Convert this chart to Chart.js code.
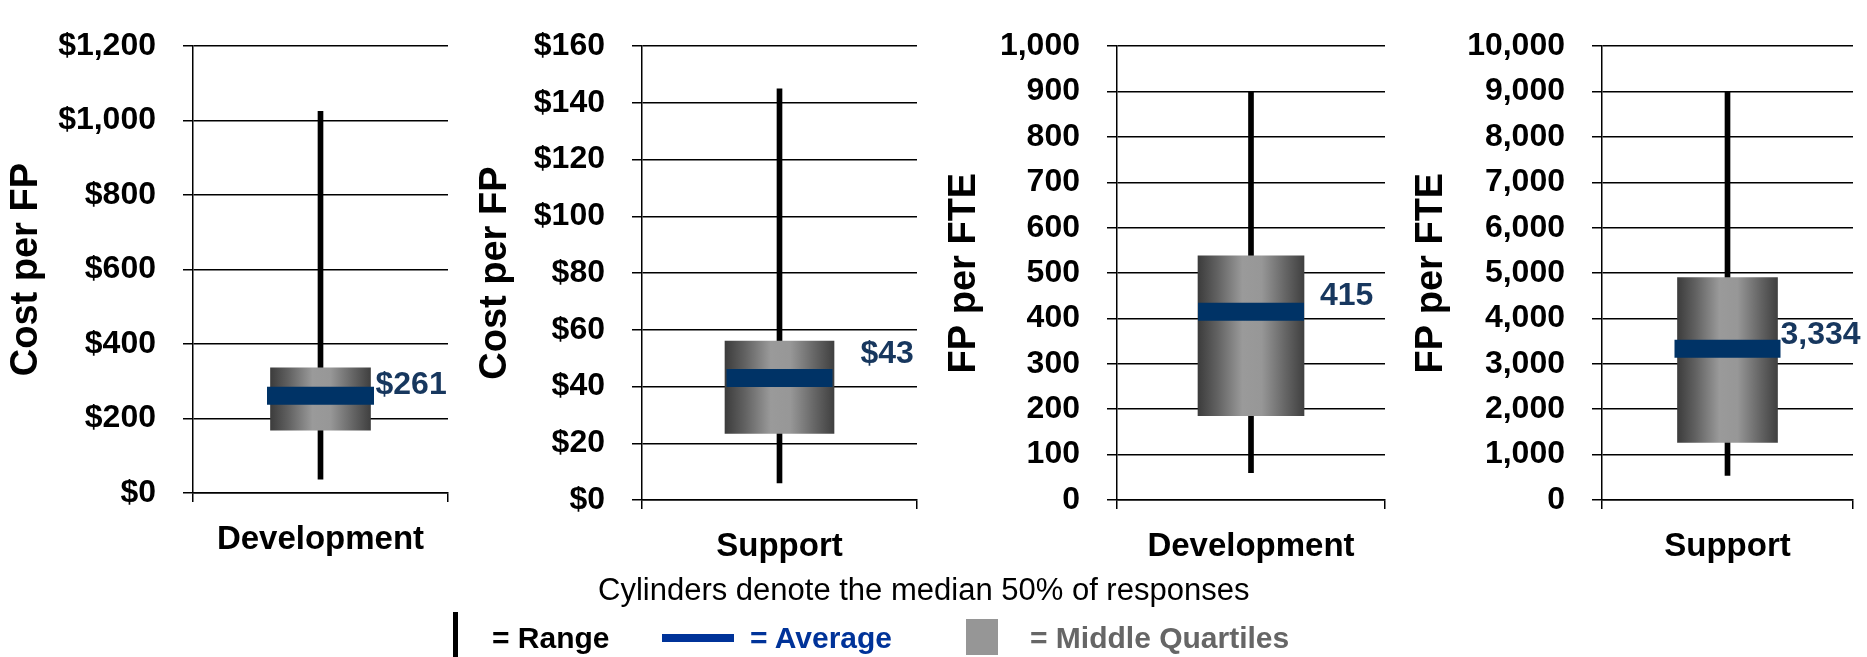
<!DOCTYPE html>
<html>
<head>
<meta charset="utf-8">
<script src="https://cdn.jsdelivr.net/npm/chart.js@4.4.1/dist/chart.umd.min.js"></script>
<style>
  html, body { margin: 0; padding: 0; background: #fff; }
  body { width: 1867px; height: 657px; position: relative; overflow: hidden; font-family: "Liberation Sans", Arial, sans-serif; }
  .panel { position: absolute; top: 0; height: 657px; }
  .note { position: absolute; white-space: nowrap; line-height: 1; }
  .swatch { position: absolute; }
</style>
</head>
<body>

<div class="panel" style="left:4px"><canvas id="c0" width="447" height="657"></canvas></div>
<div class="panel" style="left:473px"><canvas id="c1" width="447" height="657"></canvas></div>
<div class="panel" style="left:942px"><canvas id="c2" width="446" height="657"></canvas></div>
<div class="panel" style="left:1409px"><canvas id="c3" width="458" height="657"></canvas></div>

<div class="note" style="left:598px;top:574px;font-size:31px;color:#000">Cylinders denote the median 50% of responses</div>

<div class="swatch" style="left:453px;top:612px;width:5px;height:45px;background:#000"></div>
<div class="note" style="left:492px;top:623px;font-size:30px;font-weight:bold;color:#000">= Range</div>
<div class="swatch" style="left:662px;top:634px;width:72px;height:8px;background:#003399"></div>
<div class="note" style="left:750px;top:623px;font-size:30px;font-weight:bold;color:#003399">= Average</div>
<div class="swatch" style="left:966px;top:619px;width:32px;height:36px;background:#969696"></div>
<div class="note" style="left:1030px;top:623px;font-size:30px;font-weight:bold;color:#666">= Middle Quartiles</div>

<script>
// values
const categories = ['Development', 'Support', 'Development', 'Support'];
const axisTitles = ['Cost per FP', 'Cost per FP', 'FP per FTE', 'FP per FTE'];
const rangeLow = [37, 6, 60, 540];
const rangeHigh = [1025, 145, 900, 9000];
const quartileLow = [169, 23.5, 186, 1270];
const quartileHigh = [336, 56, 538, 4900];
const averages = [261, 43, 415, 3334];
const averageLabels = ['$261', '$43', '415', '3,334'];
const axisMax = [1200, 160, 1000, 10000];
const axisStep = [200, 20, 100, 1000];
const tickPrefix = ['$', '$', '', ''];

// per panel layout
const layoutCfg = [
  { axisWidth: 189, top: 36, right: 3, bottom: 493, box: 100, avgLen: 107, lblDx: 55, lblDy: 11 },
  { axisWidth: 169, top: 25, right: 3, bottom: 500, box: 109, avgLen: 106, lblDx: 81, lblDy: 24 },
  { axisWidth: 175, top: 22, right: 3, bottom: 500, box: 106, avgLen: 106, lblDx: 69, lblDy: 16 },
  { axisWidth: 193, top: 22, right: 14, bottom: 500, box: 100, avgLen: 106, lblDx: 53, lblDy: 14 }
];

const FONT = '"Liberation Sans", Arial, sans-serif';
const H = 657;

const avgLabelPlugin = {
  id: 'avgLabel',
  afterDatasetsDraw(chart, args, opts) {
    const ctx = chart.ctx;
    const area = chart.chartArea;
    const cx = (area.left + area.right) / 2;
    const y = chart.scales.y.getPixelForValue(opts.value);
    ctx.save();
    ctx.font = 'bold 32px ' + FONT;
    ctx.fillStyle = '#17375e';
    ctx.textAlign = 'left';
    ctx.textBaseline = 'middle';
    ctx.fillText(opts.text, cx + opts.dx, y - opts.dy);
    ctx.restore();
  }
};

function cylinder(ctx, width) {
  const area = ctx.chart.chartArea;
  if (!area) return '#888';
  const cx = (area.left + area.right) / 2;
  const g = ctx.chart.ctx.createLinearGradient(cx - width / 2, 0, cx + width / 2, 0);
  g.addColorStop(0, '#3c3c3c');
  g.addColorStop(0.18, '#616161');
  g.addColorStop(0.42, '#9a9a9a');
  g.addColorStop(0.6, '#979797');
  g.addColorStop(0.82, '#666666');
  g.addColorStop(1, '#404040');
  return g;
}

categories.forEach((cat, i) => {
  const L = layoutCfg[i];
  const canvas = document.getElementById('c' + i);
  new Chart(canvas, {
    type: 'bar',
    data: {
      labels: [cat],
      datasets: [
        {
          type: 'line',
          label: 'Average',
          data: [averages[i]],
          showLine: false,
          clip: false,
          pointStyle: 'line',
          pointRadius: L.avgLen / 2,
          pointHoverRadius: L.avgLen / 2,
          pointBorderWidth: 18,
          pointBorderColor: '#003366',
          pointBackgroundColor: '#003366'
        },
        {
          label: 'Middle Quartiles',
          data: [[quartileLow[i], quartileHigh[i]]],
          backgroundColor: (c) => cylinder(c, L.box),
          barThickness: L.box,
          grouped: false,
          borderWidth: 0
        },
        {
          label: 'Range',
          data: [[rangeLow[i], rangeHigh[i]]],
          backgroundColor: '#000',
          barThickness: 5,
          grouped: false,
          borderWidth: 0
        }
      ]
    },
    options: {
      responsive: false,
      animation: false,
      maintainAspectRatio: false,
      devicePixelRatio: 1,
      layout: { autoPadding: false, padding: { top: L.top, left: 0, right: L.right, bottom: 0 } },
      plugins: {
        legend: { display: false },
        tooltip: { enabled: false },
        avgLabel: { value: averages[i], text: averageLabels[i], dx: L.lblDx, dy: L.lblDy }
      },
      scales: {
        x: {
          grid: { display: true, drawOnChartArea: false, color: '#000', lineWidth: 1.5, tickLength: 9 },
          border: { display: true, color: '#000', width: 1.5 },
          ticks: { color: '#000', font: { family: FONT, size: 33, weight: 'bold' }, padding: 18, maxRotation: 0 },
          afterFit(s) { s.height = H - L.bottom; }
        },
        y: {
          min: 0,
          max: axisMax[i],
          grid: { color: '#000', lineWidth: 1.5, tickLength: 10 },
          border: { display: true, color: '#000', width: 1.5 },
          ticks: {
            stepSize: axisStep[i],
            color: '#000',
            padding: 27,
            font: { family: FONT, size: 32, weight: 'bold' },
            callback: (v) => tickPrefix[i] + v.toLocaleString('en-US')
          },
          title: {
            display: true,
            text: axisTitles[i],
            color: '#000',
            padding: { top: 0, bottom: 0 },
            font: { family: FONT, size: 38, weight: 'bold' }
          },
          afterFit(s) { s.width = L.axisWidth; }
        }
      }
    },
    plugins: [avgLabelPlugin]
  });
});
</script>
</body>
</html>
